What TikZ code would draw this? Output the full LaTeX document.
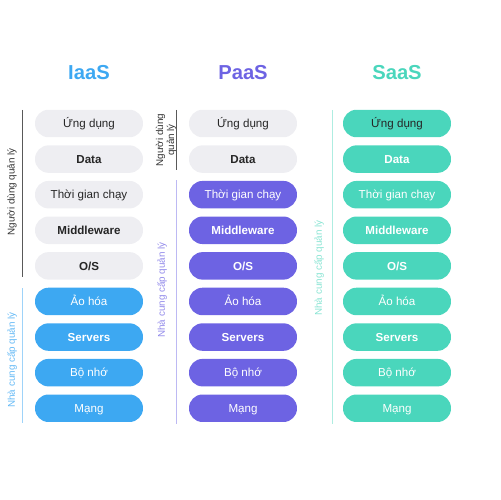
\documentclass[tikz,border=0pt]{standalone}
\usepackage{fontspec}
\setmainfont{Liberation Sans}
\usepackage{tikz}
\usetikzlibrary{positioning}
\definecolor{myblue}{HTML}{3DA8F2}
\definecolor{mypurple}{HTML}{6D63E3}
\definecolor{myteal}{HTML}{4AD6BC}
\definecolor{mygray}{HTML}{EEEEF2}

\begin{document}
\begin{tikzpicture}[x=0.02cm, y=-0.02cm,
	layer/.style={rounded corners=0.27cm, minimum width=2.16cm, minimum height=0.55cm, text height=6pt, text depth=1.2pt, inner sep=0pt, outer sep=0pt, font=\fontsize{6.6}{7}\selectfont},
	user/.style={layer, fill=mygray, text=black!85},
	iaas/.style={layer, fill=myblue, text=white},
	paas/.style={layer, fill=mypurple, text=white},
	saas/.style={layer, fill=myteal, text=white},
	title/.style={font=\bfseries\fontsize{11.5}{13}\selectfont},
	side/.style={rotate=90, font=\fontsize{5.6}{6.2}\selectfont, align=center, inner sep=1pt}]
				\useasboundingbox (0,0) rectangle (500,500);
				% titles
				\node[title, myblue] (ti) at (89,73) {IaaS};
				\node[title, mypurple] (tp) at (243,73) {PaaS};
				\node[title, myteal] (ts) at (397,73) {SaaS};
				% IaaS
				\node[user] (i1) at (89,123.5) {Ứng dụng};
				\node[user, below=0.162cm of i1] (i2) {\textbf{Data}};
				\node[user, below=0.162cm of i2] (i3) {Thời gian chạy};
				\node[user, below=0.162cm of i3] (i4) {\textbf{Middleware}};
				\node[user, below=0.162cm of i4] (i5) {\textbf{O/S}};
				\node[iaas, below=0.162cm of i5] (i6) {Ảo hóa};
				\node[iaas, below=0.162cm of i6] (i7) {\textbf{Servers}};
				\node[iaas, below=0.162cm of i7] (i8) {Bộ nhớ};
				\node[iaas, below=0.162cm of i8] (i9) {Mạng};
				% PaaS
				\node[user] (p1) at (243,123.5) {Ứng dụng};
				\node[user, below=0.162cm of p1] (p2) {\textbf{Data}};
				\node[paas, below=0.162cm of p2] (p3) {Thời gian chạy};
				\node[paas, below=0.162cm of p3] (p4) {\textbf{Middleware}};
				\node[paas, below=0.162cm of p4] (p5) {\textbf{O/S}};
				\node[paas, below=0.162cm of p5] (p6) {Ảo hóa};
				\node[paas, below=0.162cm of p6] (p7) {\textbf{Servers}};
				\node[paas, below=0.162cm of p7] (p8) {Bộ nhớ};
				\node[paas, below=0.162cm of p8] (p9) {Mạng};
				% SaaS
				\node[saas, text=black!85] (s1) at (397,123.5) {Ứng dụng};
				\node[saas, below=0.162cm of s1] (s2) {\textbf{Data}};
				\node[saas, below=0.162cm of s2] (s3) {Thời gian chạy};
				\node[saas, below=0.162cm of s3] (s4) {\textbf{Middleware}};
				\node[saas, below=0.162cm of s4] (s5) {\textbf{O/S}};
				\node[saas, below=0.162cm of s5] (s6) {Ảo hóa};
				\node[saas, below=0.162cm of s6] (s7) {\textbf{Servers}};
				\node[saas, below=0.162cm of s7] (s8) {Bộ nhớ};
				\node[saas, below=0.162cm of s8] (s9) {Mạng};
				% who manages what
				\coordinate (iu0) at (22,110); \coordinate (iu1) at (22,277);
				\coordinate (ip0) at (22,288); \coordinate (ip1) at (22,423);
				\draw [black!65] (iu0) -- (iu1);
				\draw [myblue!50] (ip0) -- (ip1);
				\node[side, black!80] (iul) at (12,192) {Người dùng quản lý};
				\node[side, myblue!80] (ipl) at (12,360) {Nhà cung cấp quản lý};
				\coordinate (pu0) at (176,110); \coordinate (pu1) at (176,170);
				\coordinate (pp0) at (176,180); \coordinate (pp1) at (176,424);
				\draw [black!65] (pu0) -- (pu1);
				\draw [mypurple!45] (pp0) -- (pp1);
				\node[side, black!80] (pul) at (166,140) {Người dùng\\quản lý};
				\node[side, mypurple!75] (ppl) at (162,290) {Nhà cung cấp quản lý};
				\coordinate (sp0) at (332,110); \coordinate (sp1) at (332,424);
				\draw [myteal!45] (sp0) -- (sp1);
				\node[side, myteal!65] (spl) at (319,268) {Nhà cung cấp quản lý};
			\end{tikzpicture}
\end{document}
